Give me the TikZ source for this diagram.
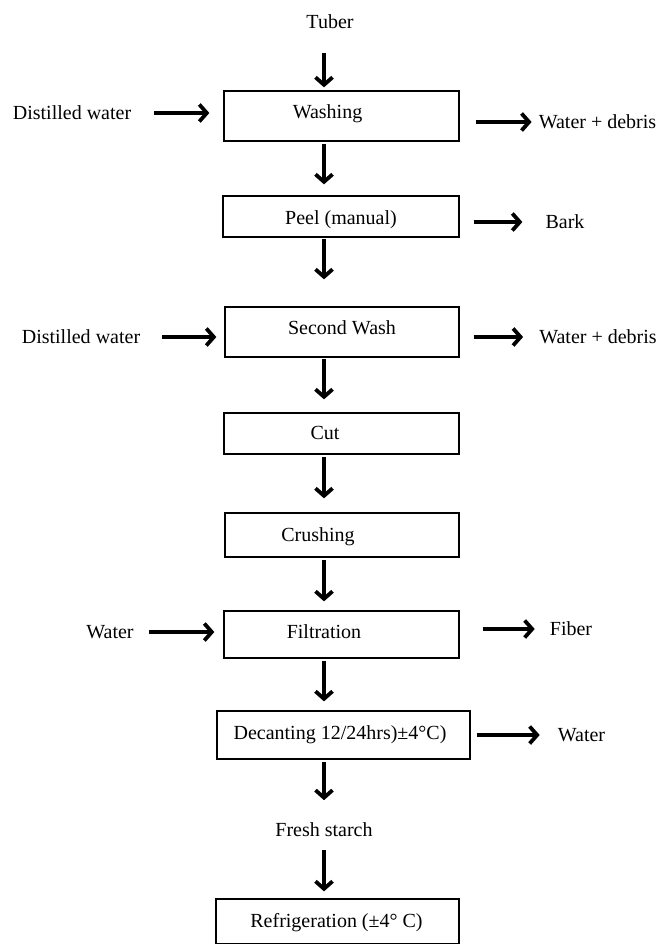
\documentclass[tikz,border=0pt]{standalone}
\usepackage{fontspec}
\setmainfont{Liberation Serif}
\usetikzlibrary{arrows.meta}
\newcommand{\Tx}[3]{\raisebox{#2pt}{\makebox[0pt]{\kern#1pt\relax #3\kern-#1pt\relax}}}
\tikzset{
  box/.style={draw, line width=1.3pt, rectangle, inner sep=0pt, text height=13.2pt, text depth=0pt, font=\fontsize{20}{24}\selectfont},
  lbl/.style={inner sep=0pt, text height=13.2pt, text depth=0pt, font=\fontsize{20}{24}\selectfont},
  arr/.style={line width=3.8pt, -{Straight Barb[length=7.5pt,width=17pt]}}
}
\begin{document}
\begin{tikzpicture}[x=1pt,y=-1pt]
\useasboundingbox (0,0) rectangle (664,944);
\coordinate (ax) at (324,0);
% boxes
\node[box, minimum width=235pt, minimum height=50pt] (wash) at (341.5,116) {\Tx{-14}{4}{Washing}};
\node[box, minimum width=236pt, minimum height=41pt] (peel) at (341,216.5) {\Tx{0}{-1.5}{Peel (manual)}};
\node[box, minimum width=234pt, minimum height=50pt] (wash2) at (342,332) {\Tx{0}{4}{Second Wash}};
\node[box, minimum width=235pt, minimum height=41pt] (cut) at (341.5,433.5) {\Tx{-16.5}{0.5}{Cut}};
\node[box, minimum width=234pt, minimum height=44pt] (crush) at (342,535) {\Tx{-24}{0}{Crushing}};
\node[box, minimum width=235pt, minimum height=47pt] (filt) at (341.5,634.5) {\Tx{-17.5}{2.5}{Filtration}};
\node[box, minimum width=253pt, minimum height=48pt] (dec) at (343.5,735) {\Tx{-3.5}{2}{Decanting 12/24hrs)±4°C)}};
\node[box, minimum width=243pt, minimum height=45pt] (refr) at (337.5,921.5) {\Tx{-1}{0.5}{Refrigeration (±4° C)}};
% labels
\node[lbl] (tuber) at (330,22) {Tuber};
\node[lbl] (dw1) at (72,113) {Distilled water};
\node[lbl] (wd1) at (597.5,122) {Water + debris};
\node[lbl] (bark) at (565,222) {Bark};
\node[lbl] (dw2) at (81,337) {Distilled water};
\node[lbl] (wd2) at (598,337) {Water + debris};
\node[lbl] (wl) at (110,632) {Water};
\node[lbl] (fiber) at (571,629) {Fiber};
\node[lbl] (wr) at (581.5,735) {Water};
\node[lbl] (fresh) at (324,830) {Fresh starch};
% vertical arrows
\draw[arr, shorten <=24.4pt, shorten >=3pt] (tuber.south -| ax) -- (wash.north -| ax);
\draw[arr, shorten <=2pt, shorten >=11pt] (wash.south -| ax) -- (peel.north -| ax);
\draw[arr, shorten <=1pt, shorten >=27pt] (peel.south -| ax) -- (wash2.north -| ax);
\draw[arr, shorten <=1pt, shorten >=13pt] (wash2.south -| ax) -- (cut.north -| ax);
\draw[arr, shorten <=2pt, shorten >=14pt] (cut.south -| ax) -- (crush.north -| ax);
\draw[arr, shorten <=2pt, shorten >=9pt] (crush.south -| ax) -- (filt.north -| ax);
\draw[arr, shorten <=2pt, shorten >=9pt] (filt.south -| ax) -- (dec.north -| ax);
\draw[arr, shorten <=2pt, shorten >=23pt] (dec.south -| ax) -- (fresh.north -| ax);
\draw[arr, shorten <=13.4pt, shorten >=7pt] (fresh.south -| ax) -- (refr.north -| ax);
% horizontal arrows
\draw[arr, shorten <=23pt, shorten >=14pt] (dw1.east) -- (dw1.east -| wash.west);
\draw[arr, shorten <=16pt, shorten >=7pt] (wash.east |- wd1.west) -- (wd1.west);
\draw[arr, shorten <=14pt, shorten >=23pt] (peel.east |- bark.west) -- (bark.west);
\draw[arr, shorten <=22pt, shorten >=8pt] (dw2.east) -- (dw2.east -| wash2.west);
\draw[arr, shorten <=14pt, shorten >=16pt] (wash2.east |- wd2.west) -- (wd2.west);
\draw[arr, shorten <=15pt, shorten >=9pt] (wl.east) -- (wl.east -| filt.west);
\draw[arr, shorten <=23pt, shorten >=15pt] (filt.east |- fiber.west) -- (fiber.west);
\draw[arr, shorten <=6pt, shorten >=18pt] (dec.east |- wr.west) -- (wr.west);
\end{tikzpicture}
\end{document}
